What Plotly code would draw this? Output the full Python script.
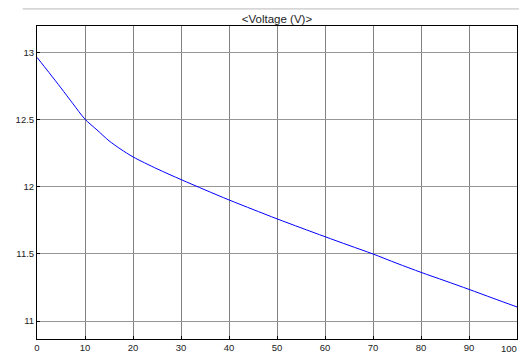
import plotly.graph_objects as go

time_s = [0, 2.5, 5, 7.5, 10, 12.5, 15, 17.5, 20, 25, 30, 35, 40, 45, 50, 55, 60, 65, 70, 75, 80, 85, 90, 95, 100]
voltage = [12.966, 12.853, 12.738, 12.620, 12.505, 12.425, 12.344, 12.280, 12.224, 12.135, 12.055, 11.978,
           11.903, 11.832, 11.762, 11.695, 11.629, 11.564, 11.500, 11.43, 11.363, 11.30, 11.236, 11.17, 11.105]
x_ticks = [0, 10, 20, 30, 40, 50, 60, 70, 80, 90, 100]
y_ticks = [11, 11.5, 12, 12.5, 13]
y_tick_text = ["11", "11.5", "12", "12.5", "13"]

# last x tick label is drawn as an annotation so it stays inside the visible page
x_tick_text = [str(v) for v in x_ticks[:-1]] + [""]

fig = go.Figure()
fig.add_trace(go.Scatter(x=time_s, y=voltage, mode="lines",
                         line=dict(color="rgb(0,0,255)", width=1, shape="spline", smoothing=0.8),
                         hoverinfo="skip"))

fig.update_layout(
    width=519, height=346,
    margin=dict(l=29, r=10, t=18, b=15, autoexpand=False),
    paper_bgcolor="white", plot_bgcolor="white",
    showlegend=False,
    font=dict(family="Arial, Liberation Sans, sans-serif", size=9, color="#222"),
    title=dict(text="&lt;Voltage (V)&gt;", x=0.5, xref="paper", xanchor="center",
               y=1, yref="paper", yanchor="bottom", pad=dict(b=3),
               font=dict(size=11.5, color="#222")),
    xaxis=dict(range=[0, 100], tickvals=x_ticks, ticktext=x_tick_text,
               showgrid=True, gridcolor="rgb(130,130,130)", gridwidth=1,
               showline=True, linecolor="black", linewidth=1, mirror=True,
               ticks="inside", ticklen=3, tickcolor="black", zeroline=False,
               automargin=False, fixedrange=True, ticklabeloverflow="allow",
               tickfont=dict(size=9.5, color="#222")),
    yaxis=dict(range=[10.866, 13.2], tickvals=y_ticks, ticktext=y_tick_text,
               showgrid=True, gridcolor="rgb(150,150,150)", gridwidth=1,
               showline=True, linecolor="black", linewidth=1, mirror=True,
               ticks="inside", ticklen=3, tickcolor="black", zeroline=False,
               automargin=False, fixedrange=True, ticklabeloverflow="allow",
               tickfont=dict(size=9.5, color="#222")),
    shapes=[
        dict(type="line", xref="paper", yref="paper", x0=-0.03, x1=1.02, y0=1.055, y1=1.055,
             line=dict(color="rgb(215,215,215)", width=2)),
    ],
    annotations=[
        dict(x=x_ticks[-1], xref="x", y=0, yref="paper", text=str(x_ticks[-1]),
             showarrow=False, xanchor="right", yanchor="top", xshift=2, yshift=-2,
             font=dict(size=9.5, color="#222")),
    ],
)

fig.write_html("out.html", config=dict(displayModeBar=False))
